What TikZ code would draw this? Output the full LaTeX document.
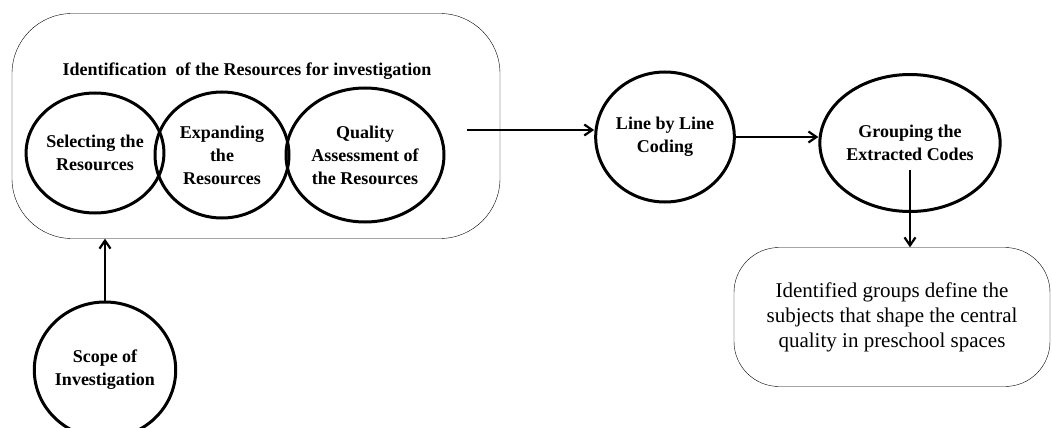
\documentclass[tikz,border=0pt]{standalone}
\usepackage{fontspec}
\setmainfont{Liberation Serif}
\usetikzlibrary{positioning, shapes.geometric, arrows.meta}

\begin{document}
\begin{tikzpicture}[x=1pt, y=-1pt,
      stage/.style  = {ellipse, draw, line width=3pt, inner sep=0pt, align=center,
                       font=\fontsize{18}{23}\selectfont\bfseries},
      blob/.style   = {draw, thin, rounded corners=60pt, inner sep=0pt},
      arr/.style    = {-{Straight Barb[length=8pt, width=11pt]}, line width=2.2pt}]
    \useasboundingbox (0,0) rectangle (1052,428);
    % group of the three resource steps
    \node[blob, minimum width=488pt, minimum height=225pt] (region) at (256,126) {};
    \node[font=\fontsize{18}{20}\selectfont\bfseries] (title) at (247,71)
         {Identification\ \ of the Resources for investigation};
    \node[stage, minimum width=124pt, minimum height=120pt] (sel)  at (95,153)
         {Selecting the\\Resources};
    \node[stage, minimum width=134pt, minimum height=126pt] (exp)  at (222,155)
         {Expanding\\the\\Resources};
    \node[stage, minimum width=158pt, minimum height=134pt] (qual) at (365,155)
         {Quality\\Assessment of\\the Resources};
    % the rest of the flow
    \node[stage, minimum width=136pt, minimum height=130pt] (line)  at (665,137)
         {Line by Line\\Coding};
    \node[stage, minimum width=165pt, minimum height=137pt] (group) at (910,143)
         {Grouping\ the\\Extracted\ Codes};
    \node[blob, rounded corners=45pt, minimum width=316pt, minimum height=139pt, align=center,
          font=\fontsize{21}{25}\selectfont] (result) at (892,317)
         {Identified\ groups define the\\subjects that shape the central\\quality\ in\ preschool spaces};
    \node[stage, minimum width=136pt, minimum height=136pt] (scope) at (105,370)
         {Scope of\\Investigation};
    \coordinate (out) at (467,130);
    \draw[arr] (out) -- (out -| line.west);
    \draw[arr] (line.east) -- (line.east -| group.west);
    \draw[arr] ([yshift=-27pt]group.center) -- (group.center |- result.north);
    \draw[arr] (scope.north) -- (scope.north |- region.south);
  \end{tikzpicture}
\end{document}
